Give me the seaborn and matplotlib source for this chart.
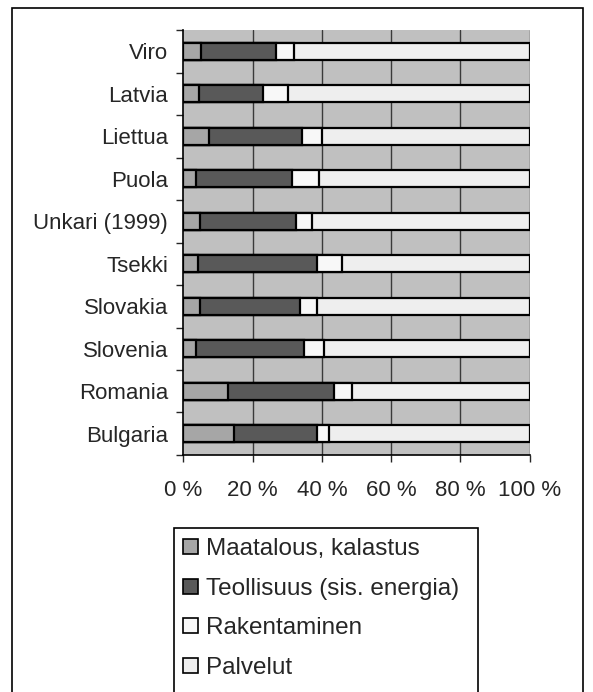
import numpy as np
import pandas as pd
import matplotlib
matplotlib.use("Agg")
import matplotlib.pyplot as plt
from matplotlib.patches import Patch, Rectangle
import seaborn as sns

# Shares of employment by sector (%)
countries = ["Viro", "Latvia", "Liettua", "Puola", "Unkari (1999)",
             "Tsekki", "Slovakia", "Slovenia", "Romania", "Bulgaria"]
maatalous = [5.1, 4.5, 7.4, 3.5, 4.7, 4.1, 4.8, 3.6, 12.8, 14.5]
teollisuus = [21.5, 18.5, 26.7, 27.7, 27.7, 34.6, 28.8, 31.1, 30.6, 24.2]
rakentaminen = [5.2, 7.1, 5.8, 8.0, 4.7, 7.1, 5.1, 5.9, 5.2, 3.4]
palvelut = [68.2, 69.9, 60.1, 60.8, 62.9, 54.2, 61.3, 59.4, 51.4, 57.9]

series = ["Maatalous, kalastus", "Teollisuus (sis. energia)", "Rakentaminen", "Palvelut"]
colors = ["#A6A6A6", "#595959", "#F8F8F8", "#EEEEEE"]

df = pd.DataFrame({
    "maa": countries,
    series[0]: maatalous,
    series[1]: teollisuus,
    series[2]: rakentaminen,
    series[3]: palvelut,
})
cum = df[series].cumsum(axis=1)
cum["maa"] = df["maa"]

sns.set_style("white")
plt.rcParams["font.family"] = ["Liberation Sans", "DejaVu Sans"]

fig = plt.figure(figsize=(5.93, 6.92), dpi=100)
ax = fig.add_axes([0.3094, 0.3425, 0.5839, 0.6141])
ax.set_facecolor("#C0C0C0")

# stacked bars: draw cumulative totals from the widest down
for name, col in reversed(list(zip(series, colors))):
    sns.barplot(data=cum, y="maa", x=name, order=countries, orient="h",
                color=col, width=0.4, edgecolor="black", linewidth=1.6,
                saturation=1, errorbar=None, ax=ax, zorder=3)

ax.set_xlim(0, 100)
ax.set_ylim(9.5, -0.5)
ax.set_xticks([0, 20, 40, 60, 80, 100])
ax.set_xticklabels([f"{v} %" for v in range(0, 101, 20)], fontsize=16)
ax.set_xlabel("")
ax.set_ylabel("")
ax.tick_params(axis="y", which="major", length=0, labelsize=16, pad=11)
ax.set_yticks(np.arange(-0.5, 10, 1), minor=True)
ax.tick_params(axis="y", which="minor", length=5, width=1, direction="out", left=True)
ax.tick_params(axis="x", length=5, width=1, direction="out", bottom=True, pad=13)
for v in [20, 40, 60, 80, 100]:
    ax.axvline(v, color="#3A3A3A", linewidth=1, zorder=1)

for side in ["top", "right"]:
    ax.spines[side].set_visible(False)
for side in ["left", "bottom"]:
    ax.spines[side].set_color("black")
    ax.spines[side].set_linewidth(1.2)

# outer chart border (cut at bottom like the original)
fig.patches.append(Rectangle((12 / 593, -0.1), 571 / 593, 1.1 - 8 / 692,
                             transform=fig.transFigure, fill=False,
                             edgecolor="black", linewidth=1.2))
# legend box
fig.patches.append(Rectangle((174 / 593, -0.1), 304 / 593, 0.1 + 1 - 528 / 692,
                             transform=fig.transFigure, fill=False,
                             edgecolor="black", linewidth=1.2))

handles = [Patch(facecolor=c, edgecolor="black", linewidth=1.2) for c in colors]
fig.legend(handles, series, loc="upper left",
           bbox_to_anchor=(176 / 593, 1 - 531 / 692), frameon=False,
           fontsize=17.5, handlelength=0.6, handleheight=0.6,
           handletextpad=0.35, labelspacing=0.72, borderpad=0.3,
           borderaxespad=0)

plt.savefig("out.png", dpi=100)
